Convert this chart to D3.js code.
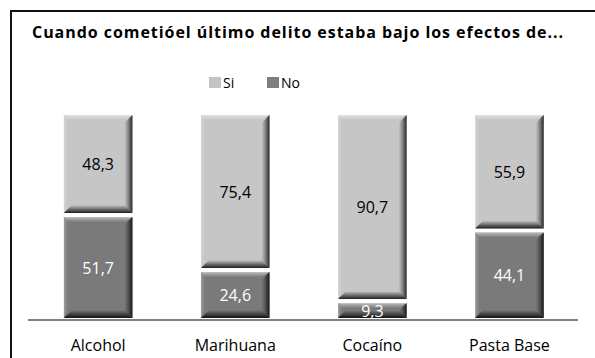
<!DOCTYPE html>
<html>
<head>
<meta charset="utf-8">
<script src="https://cdn.jsdelivr.net/npm/d3@7"></script>
<style>
  html, body { margin: 0; padding: 0; background: #fff; overflow: hidden; }
  svg { display: block; }
  text { font-family: "Open Sans", "Noto Sans", sans-serif; }
</style>
</head>
<body>
<svg id="chart" width="595" height="358" viewBox="0 0 595 358"></svg>
<script>
// Data
const categories = ["Alcohol", "Marihuana", "Cocaíno", "Pasta Base"];
const siValues = [48.3, 75.4, 90.7, 55.9];
const noValues = [51.7, 24.6, 9.3, 44.1];
const seriesNames = ["Si", "No"];
const titleText = "Cuando cometióel último delito estaba bajo los efectos de...";

const W = 595, H = 358;
const svg = d3.select("#chart");
const defs = svg.append("defs");

const colors = { Si: "#c6c6c6", No: "#7a7a7a" };
const fmt = v => d3.format(".1f")(v).replace(".", ",");

// Outer frame: top and left edges (the box runs past the right and bottom of the page)
svg.append("path")
  .attr("d", d3.line()([[11, H], [11, 11], [W, 11]]))
  .attr("fill", "none").attr("stroke", "#111").attr("stroke-width", 2);

// Title
svg.append("text")
  .attr("x", 32).attr("y", 38)
  .attr("font-size", 16).attr("font-weight", "bold")
  .attr("textLength", 531).attr("lengthAdjust", "spacing")
  .attr("fill", "#000")
  .text(titleText);

// Legend
const legendX = [209, 267];
seriesNames.forEach((s, i) => {
  svg.append("rect")
    .attr("x", legendX[i]).attr("y", 77)
    .attr("width", 12).attr("height", 11)
    .attr("fill", s === "Si" ? "#c4c4c4" : "#7e7e7e");
  svg.append("text")
    .attr("x", legendX[i] + 14).attr("y", 88)
    .attr("font-size", 14).attr("fill", "#000")
    .text(s);
});

// Scales
const x = d3.scaleBand().domain(categories).range([29.6, 578])
  .paddingInner(0.5).paddingOuter(0.25);
const y = d3.scaleLinear().domain([0, 100]).range([318, 115]);

// Gradients for the bevel edges
function grad(id, x1, y1, x2, y2, stops) {
  const g = defs.append("linearGradient").attr("id", id)
    .attr("x1", x1).attr("y1", y1).attr("x2", x2).attr("y2", y2);
  stops.forEach(s => g.append("stop").attr("offset", s[0])
    .attr("stop-color", s[1]).attr("stop-opacity", s[2]));
}
grad("gRight", 0, 0, 1, 0, [[0, "#000", 0.0], [0.45, "#000", 0.3], [1, "#000", 0.8]]);
grad("gBottom", 0, 0, 0, 1, [[0, "#000", 0.0], [0.4, "#000", 0.35], [1, "#000", 0.85]]);
grad("gTop", 0, 0, 0, 1, [[0, "#fff", 0.5], [1, "#fff", 0.0]]);
grad("gLeft", 0, 0, 1, 0, [[0, "#fff", 0.25], [1, "#fff", 0.0]]);

const gap = 4;
const segs = [];
categories.forEach((c, i) => {
  segs.push({ cat: c, series: "Si", value: siValues[i], y0: noValues[i], y1: noValues[i] + siValues[i] });
  segs.push({ cat: c, series: "No", value: noValues[i], y0: 0, y1: noValues[i] });
});

const bars = svg.append("g");
const poly = pts => pts.map(p => p.join(",")).join(" ");
segs.forEach(d => {
  const x0 = x(d.cat), x1 = x0 + x.bandwidth();
  const top = y(d.y1) + (d.series === "No" ? gap : 0);
  const bot = y(d.y0);
  const h = bot - top;
  const b = Math.min(8, h / 2);
  const t = Math.min(5, b);
  const g = bars.append("g");
  g.append("rect").attr("x", x0).attr("y", top)
    .attr("width", x1 - x0).attr("height", h).attr("fill", colors[d.series]);
  // top light
  g.append("polygon").attr("points", poly([[x0, top], [x1, top], [x1 - b, top + t], [x0 + 4, top + t]]))
    .attr("fill", "url(#gTop)");
  // left light
  g.append("polygon").attr("points", poly([[x0, top], [x0 + 4, top + t], [x0 + 4, bot - b], [x0, bot]]))
    .attr("fill", "url(#gLeft)");
  // right dark
  g.append("polygon").attr("points", poly([[x1 - b, top + b], [x1, top], [x1, bot], [x1 - b, bot - b]]))
    .attr("fill", "url(#gRight)");
  // bottom dark
  g.append("polygon").attr("points", poly([[x0, bot], [x0 + b, bot - b], [x1 - b, bot - b], [x1, bot]]))
    .attr("fill", "url(#gBottom)");
  // value label
  g.append("text")
    .attr("x", (x0 + x1) / 2).attr("y", (top + bot) / 2)
    .attr("text-anchor", "middle").attr("dominant-baseline", "central")
    .attr("font-size", 16)
    .attr("fill", d.series === "Si" ? "#000" : "#fff")
    .text(fmt(d.value));
});

// Baseline
svg.append("line")
  .attr("x1", 28).attr("x2", 578)
  .attr("y1", 320).attr("y2", 320)
  .attr("stroke", "#808080").attr("stroke-width", 2);

// Category axis labels
const xAxis = d3.axisBottom(x).tickSize(0).tickPadding(0);
const ax = svg.append("g").attr("transform", "translate(0,351)").call(xAxis);
ax.select(".domain").remove();
ax.selectAll("text")
  .attr("font-size", 16).attr("fill", "#000")
  .attr("dy", "0")
  .style("font-family", "\"Open Sans\", \"Noto Sans\", sans-serif");
</script>
</body>
</html>
